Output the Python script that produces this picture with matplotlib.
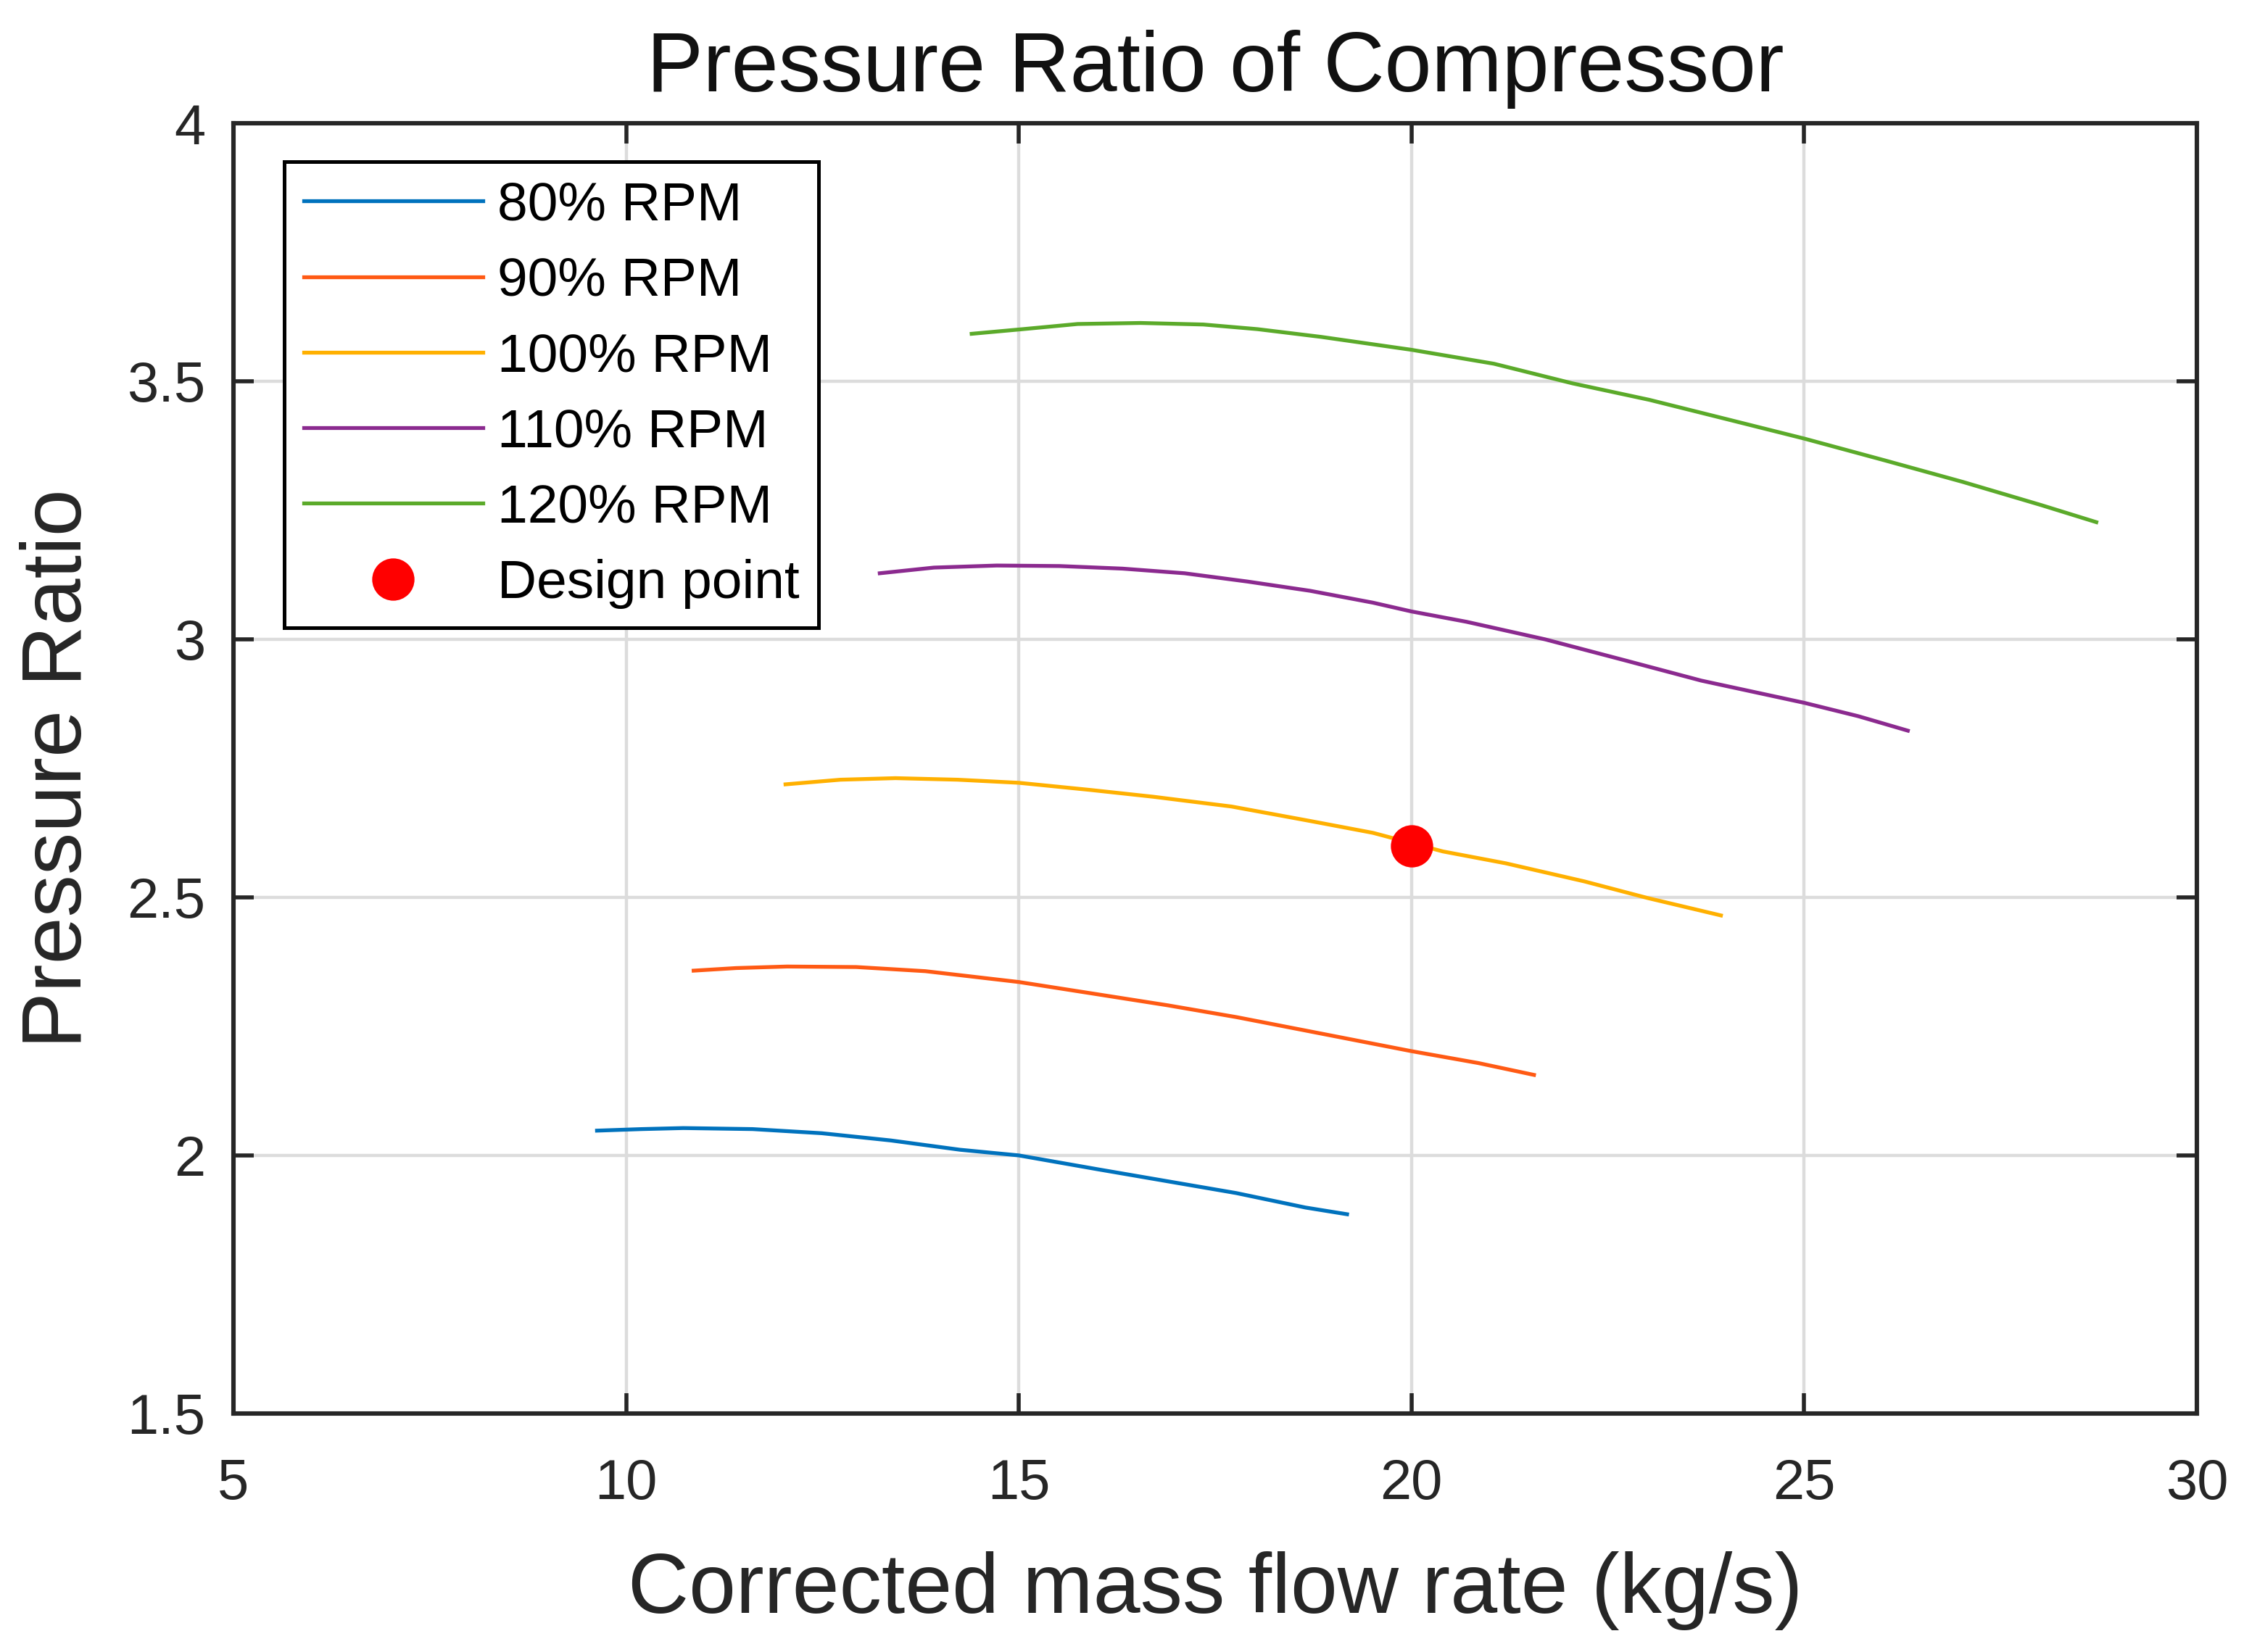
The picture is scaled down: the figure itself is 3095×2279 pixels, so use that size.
import matplotlib
matplotlib.use("Agg")
import matplotlib.pyplot as plt

plt.rcParams['font.family'] = ['Liberation Sans', 'DejaVu Sans']

# speed lines
x80 = [9.63, 10.2, 10.73, 11.61, 12.49, 13.37, 14.25, 15.0, 16.01, 16.89, 17.77, 18.65, 19.18]
y80 = [2.048, 2.051, 2.053, 2.051, 2.043, 2.029, 2.011, 2.0, 1.973, 1.95, 1.927, 1.899, 1.886]

x90 = [10.86, 11.4, 12.05, 12.93, 13.81, 15.0, 16.01, 16.89, 17.77, 18.65, 20.0, 20.85, 21.56]
y90 = [2.358, 2.363, 2.366, 2.365, 2.357, 2.336, 2.312, 2.291, 2.268, 2.242, 2.202, 2.179, 2.156]

x100 = [12.03, 12.73, 13.43, 14.22, 15.0, 15.92, 16.71, 17.71, 18.71, 19.51, 20.4, 21.2, 22.2, 23.0, 23.94]
y100 = [2.719, 2.728, 2.731, 2.728, 2.722, 2.708, 2.695, 2.676, 2.648, 2.625, 2.589, 2.566, 2.531, 2.499, 2.465]

x110 = [13.23, 13.92, 14.72, 15.52, 16.32, 17.11, 17.91, 18.71, 19.51, 20.0, 20.7, 21.7, 22.7,
        23.69, 25.0, 25.69, 26.32]
y110 = [3.128, 3.139, 3.143, 3.142, 3.137, 3.128, 3.112, 3.094, 3.071, 3.054, 3.034, 3.0, 2.96,
        2.92, 2.877, 2.851, 2.823]

x120 = [14.4, 15.05, 15.75, 16.55, 17.35, 18.04, 18.85, 20.0, 21.05, 22.05, 23.03, 24.03, 25.0,
        26.02, 27.02, 28.02, 28.72]
y120 = [3.592, 3.601, 3.611, 3.613, 3.61, 3.601, 3.586, 3.561, 3.534, 3.496, 3.464, 3.426, 3.389,
        3.347, 3.305, 3.26, 3.227]

design_x = [20]
design_y = [2.6]

labels = ["80% RPM", "90% RPM", "100% RPM", "110% RPM", "120% RPM"]
colors = ["#0072BD", "#FF5A14", "#FFB000", "#8B2A8F", "#5BAA2A"]

fig = plt.figure(figsize=(15.475, 11.395), dpi=200)
ax = fig.add_axes([0.104, 0.1444, 0.875, 0.781])

series = [(x80, y80), (x90, y90), (x100, y100), (x110, y110), (x120, y120)]
for (xs, ys), lab, c in zip(series, labels, colors):
    ax.plot(xs, ys, color=c, lw=1.9, label=lab)
ax.plot(design_x, design_y, 'o', color='red', ms=20, label="Design point", zorder=5)

ax.set_xlim(5, 30)
ax.set_ylim(1.5, 4)
ax.set_xticks([5, 10, 15, 20, 25, 30])
ax.set_yticks([1.5, 2, 2.5, 3, 3.5, 4])
ax.set_yticklabels(["1.5", "2", "2.5", "3", "3.5", "4"])
ax.grid(True, color='#dcdcdc', lw=1.6)
ax.set_axisbelow(True)
for s in ax.spines.values():
    s.set_linewidth(2.2)
    s.set_color('#262626')
ax.tick_params(direction='in', length=10, width=2, top=True, right=True,
               labelsize=28, colors='#262626')
ax.tick_params(axis='x', pad=22)
ax.tick_params(axis='y', pad=14)

ax.set_title("Pressure Ratio of Compressor", fontsize=42, pad=16, color='#111111')
ax.set_xlabel("Corrected mass flow rate (kg/s)", fontsize=42, labelpad=20, color='#262626')
ax.set_ylabel("Pressure Ratio", fontsize=42, labelpad=14, color='#262626')

leg = ax.legend(loc='upper left', bbox_to_anchor=(0.026, 0.97), borderaxespad=0,
                fontsize=27, handlelength=3.3, handletextpad=0.27, labelspacing=0.47,
                borderpad=0.35, numpoints=1, fancybox=False, framealpha=1)
leg.get_frame().set_edgecolor('black')
leg.get_frame().set_linewidth(1.8)

fig.savefig("out.png", dpi=200)
